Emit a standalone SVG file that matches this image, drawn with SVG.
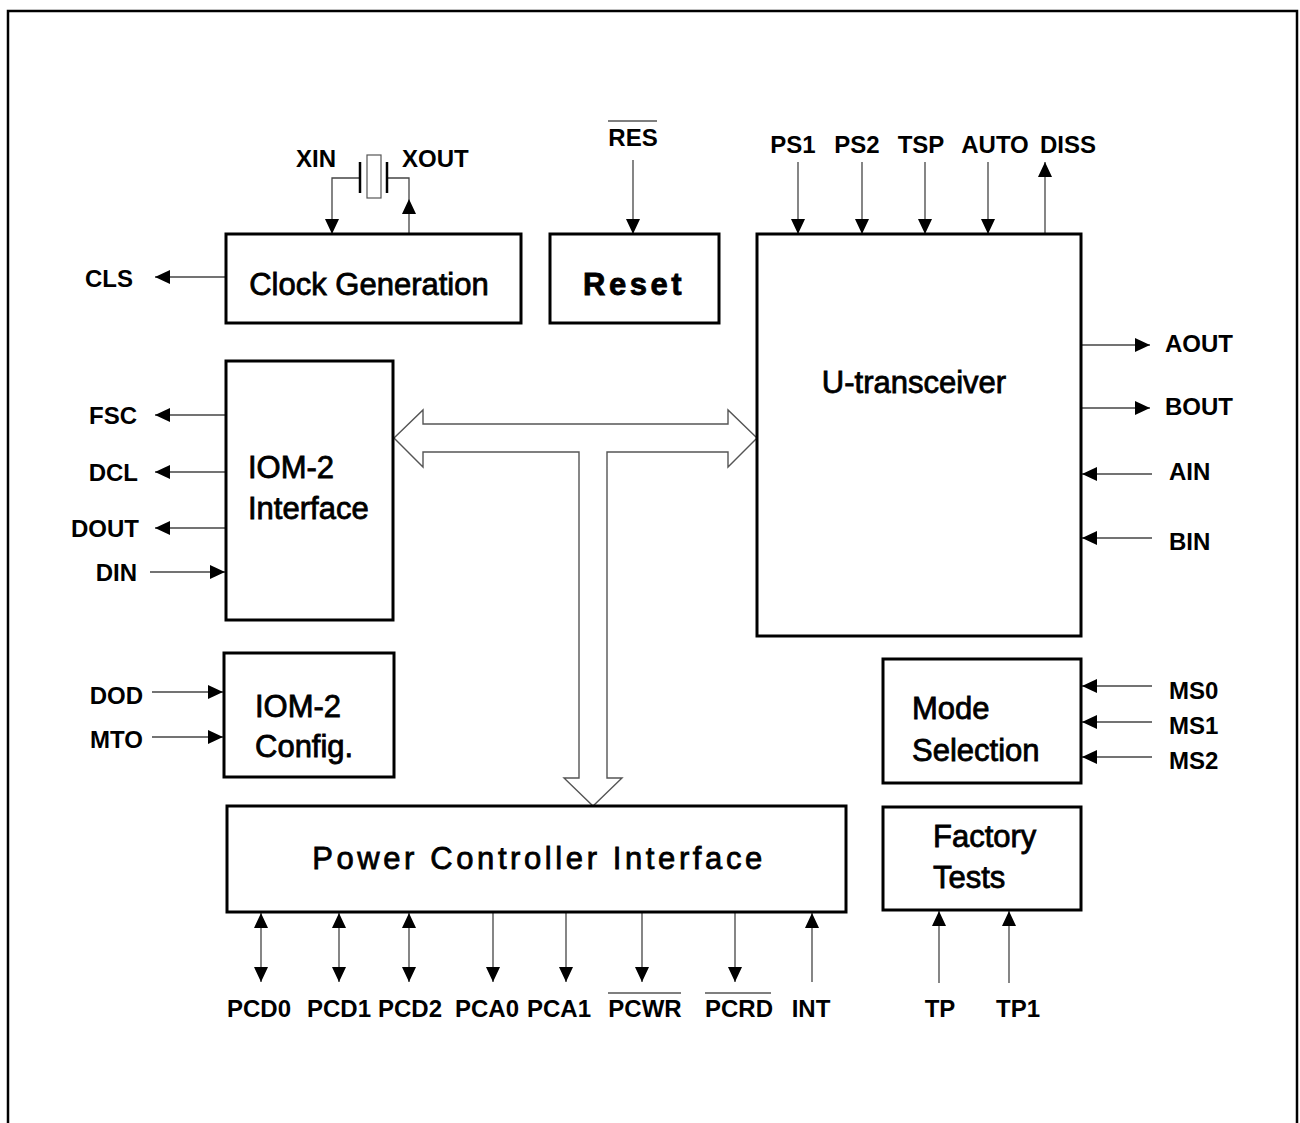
<svg xmlns="http://www.w3.org/2000/svg" width="1300" height="1123" viewBox="0 0 1300 1123">
<style>
.box{fill:#fff;stroke:#000;stroke-width:3}
.bt{font-family:"Liberation Sans",Arial,sans-serif;font-size:31px;fill:#000;stroke:#000;stroke-width:0.8}
.lb{font-family:"Liberation Sans",Arial,sans-serif;font-size:24px;font-weight:bold;fill:#000}
.w{stroke:#444;stroke-width:1.3;fill:none}
.ol{stroke:#000;stroke-width:1.2}
</style>
<defs>
<marker id="ah" markerUnits="userSpaceOnUse" markerWidth="16" markerHeight="14" refX="15" refY="7" orient="auto-start-reverse" viewBox="0 0 16 14">
<path d="M0,0 L15,7 L0,14 z" fill="#000"/>
</marker>
</defs>
<rect x="8" y="11" width="1289" height="1130" fill="none" stroke="#000" stroke-width="2.5"/>

<g id="connectors">
<path class="w" d="M360,178 H332 V234" marker-end="url(#ah)"/>
<path class="w" d="M409,234 V178 H387"/>
<path d="M402,214 L416,214 L409,199 z" fill="#000"/>
<line class="w" x1="226" y1="277" x2="155" y2="277" marker-end="url(#ah)"/>
<line class="w" x1="633" y1="160" x2="633" y2="234" marker-end="url(#ah)"/>
<line class="w" x1="798" y1="162" x2="798" y2="234" marker-end="url(#ah)"/>
<line class="w" x1="862" y1="162" x2="862" y2="234" marker-end="url(#ah)"/>
<line class="w" x1="925" y1="162" x2="925" y2="234" marker-end="url(#ah)"/>
<line class="w" x1="988" y1="162" x2="988" y2="234" marker-end="url(#ah)"/>
<line class="w" x1="1045" y1="234" x2="1045" y2="162" marker-end="url(#ah)"/>
<line class="w" x1="1077" y1="345" x2="1150" y2="345" marker-end="url(#ah)"/>
<line class="w" x1="1077" y1="408" x2="1150" y2="408" marker-end="url(#ah)"/>
<line class="w" x1="1152" y1="474" x2="1082" y2="474" marker-end="url(#ah)"/>
<line class="w" x1="1152" y1="538" x2="1082" y2="538" marker-end="url(#ah)"/>
<line class="w" x1="226" y1="415" x2="155" y2="415" marker-end="url(#ah)"/>
<line class="w" x1="226" y1="472" x2="155" y2="472" marker-end="url(#ah)"/>
<line class="w" x1="226" y1="528" x2="155" y2="528" marker-end="url(#ah)"/>
<line class="w" x1="150" y1="572" x2="225" y2="572" marker-end="url(#ah)"/>
<line class="w" x1="152" y1="692" x2="223" y2="692" marker-end="url(#ah)"/>
<line class="w" x1="152" y1="737" x2="223" y2="737" marker-end="url(#ah)"/>
<line class="w" x1="1152" y1="686" x2="1082" y2="686" marker-end="url(#ah)"/>
<line class="w" x1="1152" y1="722" x2="1082" y2="722" marker-end="url(#ah)"/>
<line class="w" x1="1152" y1="757" x2="1082" y2="757" marker-end="url(#ah)"/>
<line class="w" x1="939" y1="983" x2="939" y2="911" marker-end="url(#ah)"/>
<line class="w" x1="1009" y1="983" x2="1009" y2="911" marker-end="url(#ah)"/>
<line class="w" x1="261" y1="913" x2="261" y2="982" marker-start="url(#ah)" marker-end="url(#ah)"/>
<line class="w" x1="339" y1="913" x2="339" y2="982" marker-start="url(#ah)" marker-end="url(#ah)"/>
<line class="w" x1="409" y1="913" x2="409" y2="982" marker-start="url(#ah)" marker-end="url(#ah)"/>
<line class="w" x1="493" y1="913" x2="493" y2="982" marker-end="url(#ah)"/>
<line class="w" x1="566" y1="913" x2="566" y2="982" marker-end="url(#ah)"/>
<line class="w" x1="642" y1="913" x2="642" y2="982" marker-end="url(#ah)"/>
<line class="w" x1="735" y1="913" x2="735" y2="982" marker-end="url(#ah)"/>
<line class="w" x1="812" y1="982" x2="812" y2="913" marker-end="url(#ah)"/>
<path d="M394,438 L423,410 L423,424 L728,424 L728,410 L757,438 L728,467 L728,452 L607,452 L607,778 L622,778 L593,806 L564,778 L579,778 L579,452 L423,452 L423,467 Z" fill="#fff" stroke="#555" stroke-width="1.4"/>
</g>

<g id="crystal">
<line x1="360" y1="162" x2="360" y2="193" stroke="#000" stroke-width="2.5"/>
<rect x="367" y="155" width="14" height="43" fill="#fff" stroke="#555" stroke-width="1.2"/>
<line x1="387" y1="162" x2="387" y2="193" stroke="#000" stroke-width="2.5"/>
</g>

<g id="clock">
<rect class="box" x="226" y="234" width="295" height="89"/>
<text class="bt" x="369" y="295" text-anchor="middle">Clock Generation</text>
</g>
<g id="reset">
<rect class="box" x="550" y="234" width="169" height="89"/>
<text class="bt" x="634" y="295" text-anchor="middle" font-weight="bold" letter-spacing="3.5" stroke-width="0.3">Reset</text>
</g>
<g id="utrans">
<rect class="box" x="757" y="234" width="324" height="402"/>
<text class="bt" x="914" y="393" text-anchor="middle">U-transceiver</text>
</g>
<g id="iom2if">
<rect class="box" x="226" y="361" width="167" height="259"/>
<text class="bt" x="248" y="478">IOM-2</text>
<text class="bt" x="248" y="519">Interface</text>
</g>
<g id="iom2cfg">
<rect class="box" x="224" y="653" width="170" height="124"/>
<text class="bt" x="255" y="717">IOM-2</text>
<text class="bt" x="255" y="757">Config.</text>
</g>
<g id="pci">
<rect class="box" x="227" y="806" width="619" height="106"/>
<text class="bt" x="539" y="869" text-anchor="middle" letter-spacing="3.6">Power Controller Interface</text>
</g>
<g id="mode">
<rect class="box" x="883" y="659" width="198" height="124"/>
<text class="bt" x="912" y="719">Mode</text>
<text class="bt" x="912" y="761">Selection</text>
</g>
<g id="factory">
<rect class="box" x="883" y="807" width="198" height="103"/>
<text class="bt" x="933" y="847">Factory</text>
<text class="bt" x="933" y="888">Tests</text>
</g>

<g id="labels">
<text class="lb" x="296" y="167">XIN</text>
<text class="lb" x="402" y="167">XOUT</text>
<text class="lb" x="85" y="287">CLS</text>
<text class="lb" x="633" y="146" text-anchor="middle">RES</text>
<line class="ol" x1="608" y1="121" x2="657" y2="121"/>
<text class="lb" x="793" y="153" text-anchor="middle">PS1</text>
<text class="lb" x="857" y="153" text-anchor="middle">PS2</text>
<text class="lb" x="921" y="153" text-anchor="middle">TSP</text>
<text class="lb" x="995" y="153" text-anchor="middle">AUTO</text>
<text class="lb" x="1068" y="153" text-anchor="middle">DISS</text>
<text class="lb" x="1165" y="352">AOUT</text>
<text class="lb" x="1165" y="415">BOUT</text>
<text class="lb" x="1169" y="480">AIN</text>
<text class="lb" x="1169" y="550">BIN</text>
<text class="lb" x="137" y="424" text-anchor="end">FSC</text>
<text class="lb" x="138" y="481" text-anchor="end">DCL</text>
<text class="lb" x="139" y="537" text-anchor="end">DOUT</text>
<text class="lb" x="137" y="581" text-anchor="end">DIN</text>
<text class="lb" x="143" y="704" text-anchor="end">DOD</text>
<text class="lb" x="143" y="748" text-anchor="end">MTO</text>
<text class="lb" x="1169" y="699">MS0</text>
<text class="lb" x="1169" y="734">MS1</text>
<text class="lb" x="1169" y="769">MS2</text>
<text class="lb" x="940" y="1017" text-anchor="middle">TP</text>
<text class="lb" x="1018" y="1017" text-anchor="middle">TP1</text>
<text class="lb" x="259" y="1017" text-anchor="middle">PCD0</text>
<text class="lb" x="339" y="1017" text-anchor="middle">PCD1</text>
<text class="lb" x="410" y="1017" text-anchor="middle">PCD2</text>
<text class="lb" x="487" y="1017" text-anchor="middle">PCA0</text>
<text class="lb" x="559" y="1017" text-anchor="middle">PCA1</text>
<text class="lb" x="645" y="1017" text-anchor="middle">PCWR</text>
<line class="ol" x1="608" y1="993" x2="681" y2="993"/>
<text class="lb" x="739" y="1017" text-anchor="middle">PCRD</text>
<line class="ol" x1="705" y1="993" x2="771" y2="993"/>
<text class="lb" x="811" y="1017" text-anchor="middle">INT</text>
</g>
</svg>
